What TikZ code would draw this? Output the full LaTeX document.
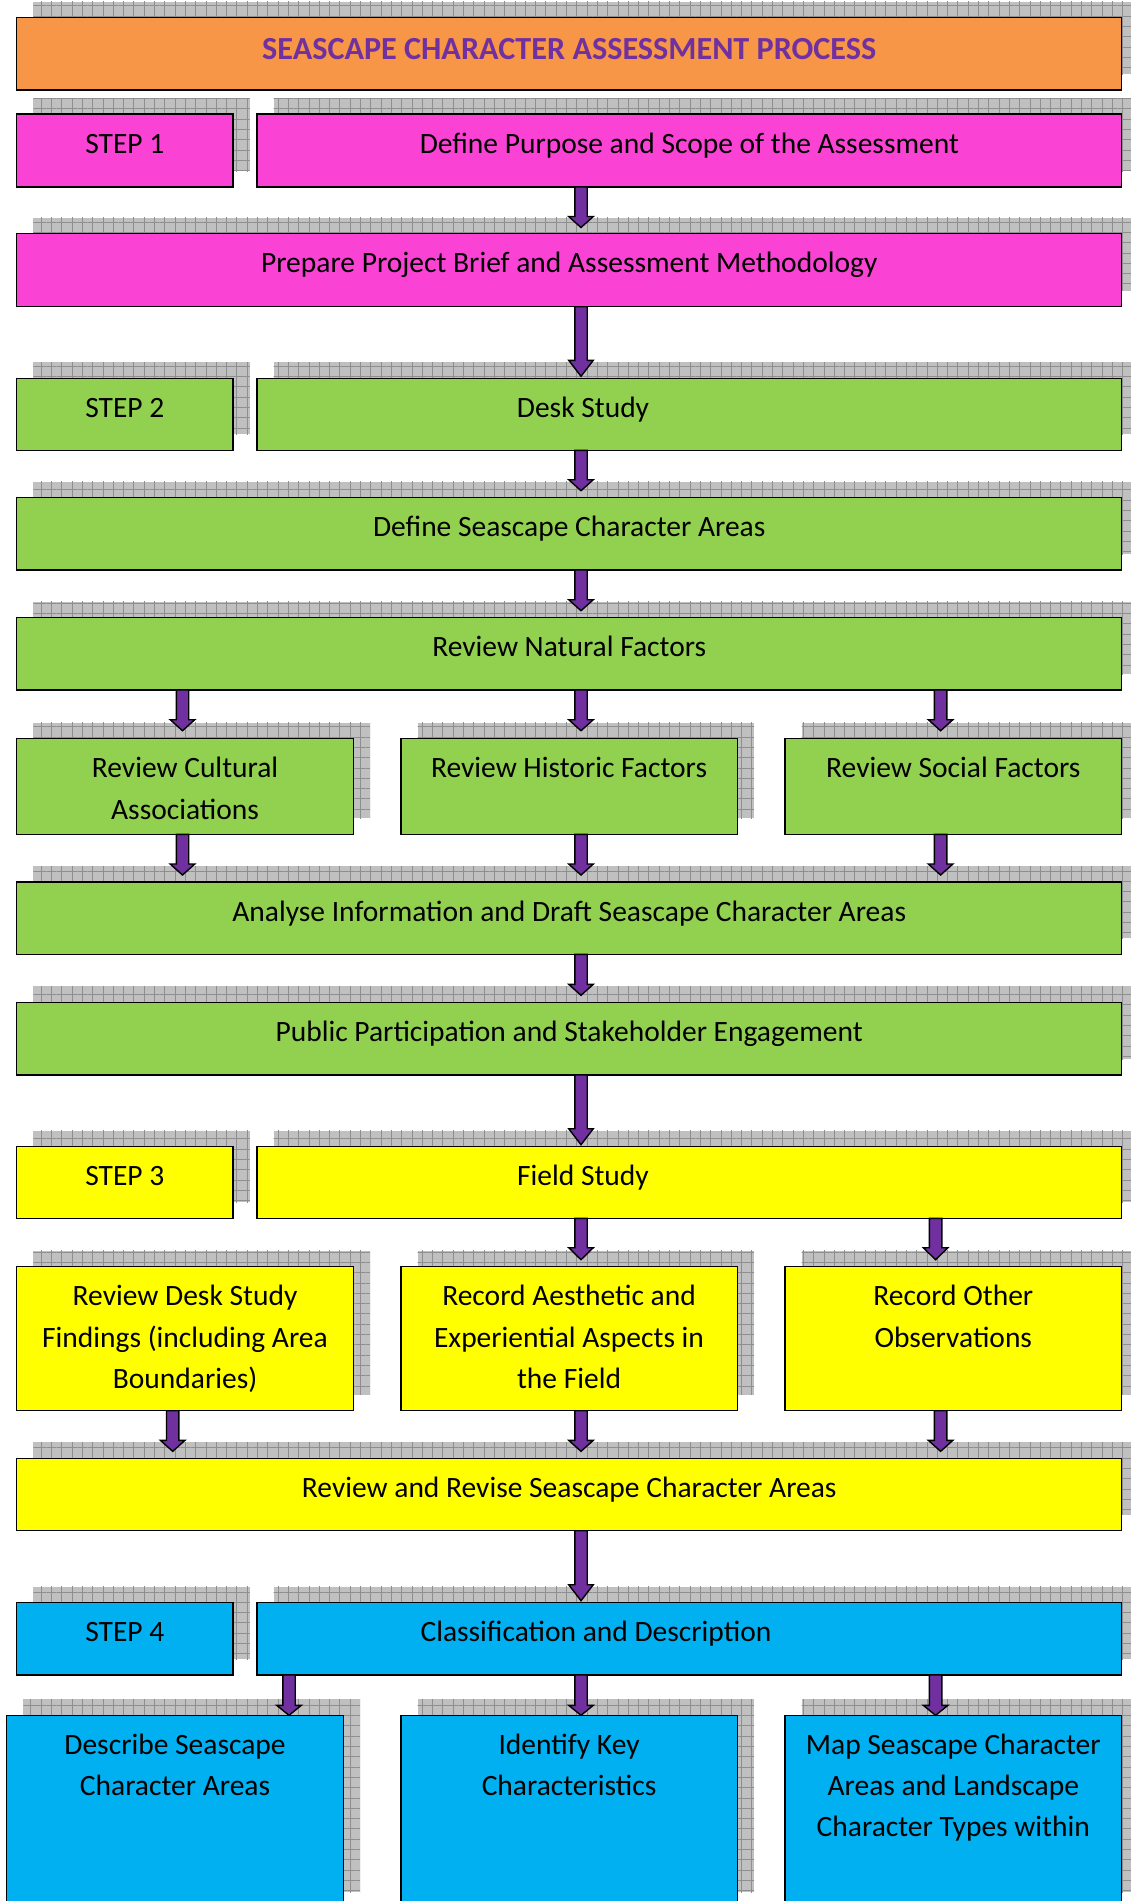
\documentclass[tikz,border=0pt]{standalone}
\usepackage{fontspec}
\setmainfont{Carlito}
\usetikzlibrary{calc,backgrounds,patterns.meta}
\definecolor{orangeT}{HTML}{F79646}
\definecolor{magentaB}{HTML}{FA43D4}
\definecolor{greenB}{HTML}{92D050}
\definecolor{yellowB}{HTML}{FFFF00}
\definecolor{blueB}{HTML}{00B0F0}
\definecolor{purpleA}{HTML}{7030A0}
\definecolor{shadowG}{HTML}{C0C0C0}
\definecolor{gridG}{HTML}{8E8E8E}
\newcommand\bt[4][0pt]{\parbox[t][#3][t]{#2}{\centering\rule{0pt}{39pt}\hspace*{#1}#4\par}}
\newcommand\blockarr[4]{\path[arrowst] let \p1=#1, \p2=#2 in
  (\x1-6.2pt,\y1) -- (\x1-6.2pt,\y2+#4+#3) -- (\x1-12.3pt,\y2+#4+#3) -- (\x1,\y2+#4)
  -- (\x1+12.3pt,\y2+#4+#3) -- (\x1+6.2pt,\y2+#4+#3) -- (\x1+6.2pt,\y1) -- cycle;}
\tikzset{
  box/.style={draw=black, line width=1.5pt, inner sep=0pt, outer sep=0pt,
    anchor=north west, fill=#1, font=\fontsize{29.5pt}{41.3pt}\selectfont},
  arrowst/.style={fill=purpleA, draw=black, line width=1.4pt, line join=miter},
  shadowst/.style={pattern={Hatch[distance=10.3pt,angle=0,line width=0.9pt]},
    pattern color=gridG, preaction={fill=shadowG}}
}
\begin{document}
\begin{tikzpicture}[x=1pt,y=-1pt]
\useasboundingbox (0,0) rectangle (1131,1901);
\coordinate (cM) at (581,0);
\coordinate (cL) at (182.5,0);
\coordinate (cR) at (940.6,0);
\coordinate (cRf) at (935.6,0);
\coordinate (cLd) at (172.7,0);
\coordinate (cLc) at (289,0);
% title
\node[box=orangeT] (title) at (16.7,17.7)
  {\parbox[t][72.3pt][t]{1105pt}{\centering\rule{0pt}{42pt}\fontsize{32.2pt}{40pt}\selectfont\bfseries\color{purpleA}SEASCAPE CHARACTER ASSESSMENT PROCESS\par}};
% step 1
\node[box=magentaB] (s1) at (16.7,114) {\bt{216.3pt}{73pt}{STEP 1}};
\node[box=magentaB] (d1) at (257,114) {\bt{864.7pt}{73pt}{Define Purpose and Scope of the Assessment}};
\node[box=magentaB] (p) at (16.7,233.5) {\bt{1105pt}{73.2pt}{Prepare Project Brief and Assessment Methodology}};
% step 2
\node[box=greenB] (s2) at (16.7,378.3) {\bt{216.3pt}{72pt}{STEP 2}};
\node[box=greenB] (ds) at (257,378.3) {\bt[-212.7pt]{864.7pt}{72pt}{Desk Study}};
\node[box=greenB] (dsca) at (16.7,497.7) {\bt{1105pt}{72.3pt}{Define Seascape Character Areas}};
\node[box=greenB] (nat) at (16.7,617.7) {\bt{1105pt}{72.3pt}{Review Natural Factors}};
\node[box=greenB] (cult) at (16.7,738.7) {\bt{336.7pt}{95.6pt}{Review Cultural\\Associations}};
\node[box=greenB] (hist) at (400.8,738.7) {\bt{336.5pt}{95.6pt}{Review Historic Factors}};
\node[box=greenB] (soc) at (785,738.7) {\bt{336.6pt}{95.6pt}{Review Social Factors}};
\node[box=greenB] (an) at (16.7,882) {\bt{1105pt}{72.3pt}{Analyse Information and Draft Seascape Character Areas}};
\node[box=greenB] (pub) at (16.7,1002.3) {\bt{1105pt}{72.7pt}{Public Participation and Stakeholder Engagement}};
% step 3
\node[box=yellowB] (s3) at (16.7,1146.7) {\bt{216.3pt}{71.6pt}{STEP 3}};
\node[box=yellowB] (fs) at (257,1146.7) {\bt[-212.7pt]{864.7pt}{71.6pt}{Field Study}};
\node[box=yellowB] (rd) at (16.7,1266.7) {\bt{336.7pt}{144pt}{Review Desk Study\\Findings (including Area\\Boundaries)}};
\node[box=yellowB] (ra) at (400.8,1266.7) {\bt{336.5pt}{144pt}{Record Aesthetic and\\Experiential Aspects in\\the Field}};
\node[box=yellowB] (ro) at (785,1266.7) {\bt{336.6pt}{144pt}{Record Other\\Observations}};
\node[box=yellowB] (rr) at (16.7,1458.3) {\bt{1105pt}{72.4pt}{Review and Revise Seascape Character Areas}};
% step 4
\node[box=blueB] (s4) at (16.7,1602.7) {\bt{216.3pt}{72.3pt}{STEP 4}};
\node[box=blueB] (cd) at (257,1602.7) {\bt[-186.7pt]{864.7pt}{72.3pt}{Classification and Description}};
\node[box=blueB] (desc) at (6.7,1715.3) {\bt{336.6pt}{193pt}{Describe Seascape\\Character Areas}};
\node[box=blueB] (idk) at (400.8,1715.3) {\bt{336.5pt}{193pt}{Identify Key\\Characteristics}};
\node[box=blueB] (map) at (785,1715.3) {\bt{336.6pt}{193pt}{Map Seascape Character\\Areas and Landscape\\Character Types within}};
% shadows
\begin{scope}[on background layer]
\foreach \n in {title,s1,d1,p,s2,ds,dsca,nat,cult,hist,soc,an,pub,s3,fs,rd,ra,ro,rr,s4,cd,desc,idk,map}
  {\path[shadowst] ([shift={(16.7pt,16pt)}]\n.north west) rectangle ([shift={(16.7pt,16pt)}]\n.south east);}
\end{scope}
% arrows
\blockarr{(d1.south -| cM)}{(p.north -| cM)}{11pt}{6pt}
\blockarr{(p.south -| cM)}{(ds.north -| cM)}{16pt}{2pt}
\blockarr{(ds.south -| cM)}{(dsca.north -| cM)}{11pt}{7pt}
\blockarr{(dsca.south -| cM)}{(nat.north -| cM)}{11pt}{7pt}
\blockarr{(nat.south -| cL)}{(cult.north -| cL)}{11pt}{8pt}
\blockarr{(nat.south -| cM)}{(hist.north -| cM)}{11pt}{8pt}
\blockarr{(nat.south -| cR)}{(soc.north -| cR)}{11pt}{8pt}
\blockarr{(cult.south -| cL)}{(an.north -| cL)}{11pt}{7pt}
\blockarr{(hist.south -| cM)}{(an.north -| cM)}{11pt}{7pt}
\blockarr{(soc.south -| cR)}{(an.north -| cR)}{11pt}{7pt}
\blockarr{(an.south -| cM)}{(pub.north -| cM)}{11pt}{7pt}
\blockarr{(pub.south -| cM)}{(fs.north -| cM)}{16pt}{2pt}
\blockarr{(fs.south -| cM)}{(ra.north -| cM)}{12pt}{7pt}
\blockarr{(fs.south -| cRf)}{(ro.north -| cRf)}{12pt}{7pt}
\blockarr{(rd.south -| cLd)}{(rr.north -| cLd)}{11pt}{7pt}
\blockarr{(ra.south -| cM)}{(rr.north -| cM)}{11pt}{7pt}
\blockarr{(ro.south -| cR)}{(rr.north -| cR)}{11pt}{7pt}
\blockarr{(rr.south -| cM)}{(cd.north -| cM)}{16pt}{2pt}
\blockarr{(cd.south -| cLc)}{(desc.north -| cLc)}{10pt}{0pt}
\blockarr{(cd.south -| cM)}{(idk.north -| cM)}{10pt}{0pt}
\blockarr{(cd.south -| cRf)}{(map.north -| cRf)}{10pt}{0pt}
\end{tikzpicture}
\end{document}
